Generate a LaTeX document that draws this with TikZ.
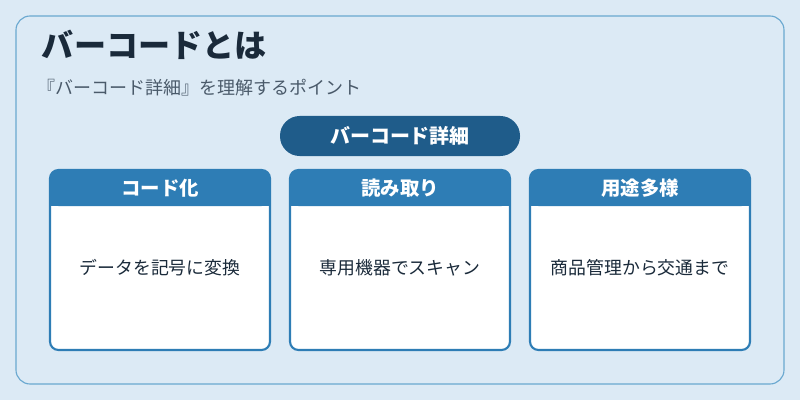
\documentclass[tikz,border=0pt]{standalone}
\usepackage{fontspec}
\setmainfont{Noto Sans CJK JP}
\usetikzlibrary{positioning}
\definecolor{bgblue}{HTML}{DCEAF5}
\definecolor{edgeblue}{HTML}{6AA8D0}
\definecolor{pillblue}{HTML}{1F5C8A}
\definecolor{headblue}{HTML}{2E7DB5}
\definecolor{titleink}{HTML}{1A2A3A}
\definecolor{subink}{HTML}{4A5A6A}
\begin{document}
\begin{tikzpicture}
[x=0.025cm, y=-0.025cm,
cardbody/.style={draw=headblue, line width=1.5pt, fill=white, rounded corners=6pt},
cardhead/.style={fill=headblue, text=white, font=\bfseries\fontsize{13.8}{16}\selectfont},
cardtext/.style={text=titleink, font=\fontsize{12.7}{15}\selectfont}
]
  \fill[bgblue] (0,0) rectangle (800,400);
  \draw[edgeblue, line width=0.8pt, rounded corners=10pt] (16,16) rectangle (784,384);
  \node[anchor=west, text=titleink, font=\bfseries\fontsize{22.8}{26}\selectfont] (title) at (37,45) {バーコードとは};
  \node[anchor=west, text=subink, font=\fontsize{12.8}{15}\selectfont] (subtitle) at (33,88) {『バーコード詳細』を理解するポイント};
  \node[fill=pillblue, text=white, rounded corners=14pt, minimum width=240*0.025cm, minimum height=40*0.025cm, font=\bfseries\fontsize{14.2}{16}\selectfont] (pill) at (400,136) {バーコード詳細};
  \foreach \x/\name/\head/\body in {50/code/コード化/データを記号に変換, 290/read/読み取り/専用機器でスキャン, 530/use/用途多様/商品管理から交通まで}{
    \draw[cardbody] (\x,170) rectangle ++(220,180);
    \fill[headblue, rounded corners=6pt] (\x,170) rectangle ++(220,36);
    \fill[headblue] (\x,190) rectangle ++(220,16);
    \node[cardhead] (\name head) at (\x+110,188) {\head};
    \node[cardtext] (\name text) at (\x+110,268) {\body};
  }
\end{tikzpicture}
\end{document}
